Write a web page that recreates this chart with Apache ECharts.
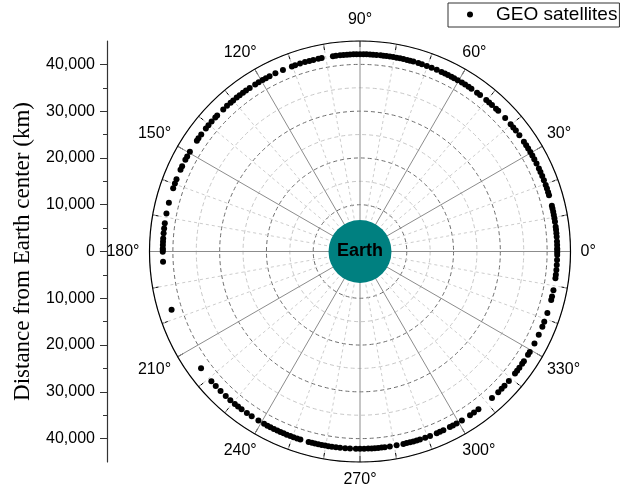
<!DOCTYPE html>
<html><head><meta charset="utf-8">
<script src="https://cdn.jsdelivr.net/npm/echarts@6/dist/echarts.min.js"></script>
<style>html,body{margin:0;padding:0;background:#fff}#c{width:621px;height:493px}</style>
</head><body><div id="c"></div>
<script>
// GEO satellite angular positions (degrees)
const geoLongitudes = [
  0.4, 0.9, 1.9, 2.9, 4.3, 5.3, 6.3, 7.2, 8.7, 9.7, 10.7, 11.6, 12.6, 13.4, 16.6, 17.5, 18.6, 19.7,
  21.2, 22.5, 23.8, 24.9, 26.5, 27.9, 29.1, 30.3, 31.5, 32.6, 33.8, 36.1, 37.8, 39.0, 40.2, 42.6,
  45.5, 46.4, 48.0, 49.1, 50.2, 52.5, 53.6, 55.6, 56.6, 57.8, 58.9, 60.3,
  61.5, 62.4, 63.5, 64.5, 65.6, 67.1, 68.7, 70.2, 71.7, 72.8, 74.3, 75.3, 76.2, 77.3, 78.3, 79.3,
  80.3, 81.3, 82.3, 83.2, 84.0, 85.2, 86.2, 87.1, 88.1, 89.0, 90.0, 91.0, 91.9, 92.9, 93.8, 94.8,
  95.8, 97.0, 97.9, 101.2, 102.2, 103.7, 104.9, 106.2, 107.7, 109.2, 110.2, 113.0, 115.4, 117.3,
  118.5, 119.6,
  120.9, 122.1, 124.0, 125.3, 126.4, 127.6, 128.7, 130.0, 131.0, 132.4, 133.9, 136.4, 137.2, 138.8,
  140.2, 141.4, 143.6, 145.0, 145.8, 149.6, 151.2, 152.3, 154.4, 155.5, 158.5, 159.8, 161.3, 165.7,
  168.9, 171.8, 173.3, 174.7, 176.2, 177.2, 178.1, 179.1, 179.6,
  180.1, 183.0, 197.2, 216.3, 221.1, 223.0, 225.0, 227.1, 228.9, 230.6, 231.8, 233.1, 235.0, 236.7, 239.0,
  240.9, 242.0, 243.0, 244.1, 245.2, 246.2, 247.2, 248.2, 249.3, 250.3, 251.4, 252.4, 254.9, 255.9,
  256.8, 257.8, 258.8, 259.8, 260.8, 261.8, 263.0, 264.2, 265.7, 267.1, 268.8, 270.0, 271.2, 272.4,
  273.4, 274.3, 275.3, 276.3, 277.2, 278.7, 280.7, 282.7, 283.7, 284.7, 285.7, 286.7, 287.7, 289.3,
  290.8, 292.9, 293.9, 295.0, 297.1, 298.1, 299.3,
  301.1, 303.9, 305.3, 306.9, 312.0, 314.5, 315.9, 317.1, 319.0, 321.8, 322.8, 323.9, 325.3, 326.2,
  328.4, 329.4, 332.2, 335.0, 337.6, 339.1, 341.8, 345.8, 346.8, 348.7, 352.2, 353.2, 354.6, 356.1,
  357.5, 359.0, 359.7
];
const geoRadiusKm = 42164;          // geostationary orbit radius
const earthPoint = [0, 0];          // Earth at the centre [radius, angle]
const radiusMaxKm = 45000;
const angleTickStep = 30;
const distanceTicks = [-40000, -30000, -20000, -10000, 0, 10000, 20000, 30000, 40000];
const distanceMinorTicks = [-35000, -25000, -15000, -5000, 5000, 15000, 25000, 35000];

const fmtKm = v => String(Math.abs(v)).replace(/\B(?=(\d{3})+(?!\d))/g, ',');
// label style per angle (pulls side labels slightly toward the vertical centre line)
const angleLabelStyle = {60: 'a', 300: 'a', 30: 'b', 330: 'b', 120: 'c', 240: 'c', 150: 'd', 210: 'd', 90: 't'};
const fmtAngle = v => {
  if (v === 360) return '';
  const k = angleLabelStyle[v];
  return k ? '{' + k + '|' + v + '°}' : v + '°';
};

const chart = echarts.init(document.getElementById('c'), null, {renderer: 'canvas'});
chart.setOption({
  animation: false,
  backgroundColor: '#fff',
  textStyle: {fontFamily: 'Liberation Sans, Arial, sans-serif'},
  legend: {
    data: ['GEO satellites'], left: 448, top: 3,
    borderColor: '#333', borderWidth: 1, padding: [2, 2, 3, 19],
    itemWidth: 6, itemHeight: 6, icon: 'circle', selectedMode: false,
    itemStyle: {opacity: 1},
    textStyle: {fontSize: 19, color: '#000', padding: [0, 0, 0, 18]}
  },
  polar: {center: [360, 251.5], radius: 210.5},
  angleAxis: {
    type: 'value', min: 0, max: 360, interval: angleTickStep, startAngle: 0, clockwise: false,
    axisLine: {show: true, lineStyle: {color: '#000', width: 1.2}},
    axisTick: {show: true, inside: true, length: 6, lineStyle: {color: '#000'}},
    minorTick: {show: true, splitNumber: 3, length: 6, lineStyle: {color: '#000'}},
    axisLabel: {
      margin: 10, fontSize: 16, color: '#000', formatter: fmtAngle,
      rich: {
        a: {fontSize: 16, color: '#000', padding: [0, 0, 0, -8]},
        b: {fontSize: 16, color: '#000', padding: [0, 0, 0, -4]},
        c: {fontSize: 16, color: '#000', padding: [0, -7, 0, 0]},
        d: {fontSize: 16, color: '#000', padding: [0, -2, 0, 0]},
        t: {fontSize: 16, color: '#000', padding: [0, 0, 3, 0]}
      }
    },
    splitLine: {show: true, lineStyle: {color: '#8c8c8c', width: 1}},
    minorSplitLine: {show: true, lineStyle: {color: '#cdcdcd', type: [3, 3], width: 1}}
  },
  radiusAxis: {
    type: 'value', min: 0, max: radiusMaxKm, interval: 5000,
    axisLine: {show: false}, axisTick: {show: false}, axisLabel: {show: false},
    splitLine: {show: true, lineStyle: {color: ['#6e6e6e', '#c8c8c8'], type: [4, 3], width: 1}}
  },
  grid: {left: 107, top: 41, width: 10, height: 421},
  xAxis: {type: 'value', show: false, min: 0, max: 1},
  yAxis: [
    {
      type: 'value', min: -radiusMaxKm, max: radiusMaxKm, position: 'left',
      axisLine: {show: true, lineStyle: {color: '#333', width: 1.2}},
      axisTick: {show: true, length: 7, customValues: distanceTicks, lineStyle: {color: '#333'}},
      axisLabel: {show: true, customValues: distanceTicks, margin: 12, fontSize: 16, color: '#000', formatter: fmtKm},
      splitLine: {show: false},
      name: 'Distance from Earth center (km)', nameLocation: 'middle', nameGap: 73,
      nameTextStyle: {fontFamily: 'Liberation Serif', fontSize: 23, color: '#000'}
    },
    {
      type: 'value', min: -radiusMaxKm, max: radiusMaxKm, position: 'left', offset: 0,
      axisLine: {show: false}, axisLabel: {show: false}, splitLine: {show: false},
      axisTick: {show: true, length: 4, customValues: distanceMinorTicks, lineStyle: {color: '#333'}}
    }
  ],
  series: [
    {
      name: 'Earth', type: 'scatter', coordinateSystem: 'polar', data: [earthPoint],
      symbolSize: 63, itemStyle: {color: '#008080', opacity: 1}, silent: true, z: 3,
      label: {show: true, position: 'inside', formatter: 'Earth', fontSize: 18, fontWeight: 'bold', color: '#000'}
    },
    {
      name: 'GEO satellites', type: 'scatter', coordinateSystem: 'polar',
      data: geoLongitudes.map(a => [geoRadiusKm, a]),
      symbolSize: 6, itemStyle: {color: '#000', opacity: 1}, z: 4
    }
  ]
});
</script></body></html>
